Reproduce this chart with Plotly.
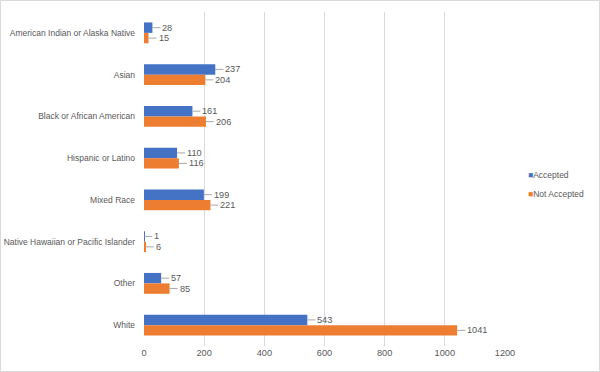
import plotly.graph_objects as go

categories = ["American Indian or Alaska Native", "Asian", "Black or African American",
              "Hispanic or Latino", "Mixed Race", "Native Hawaiian or Pacific Islander",
              "Other", "White"]
accepted = [28, 237, 161, 110, 199, 1, 57, 543]
not_accepted = [15, 204, 206, 116, 221, 6, 85, 1041]
x_ticks = [0, 200, 400, 600, 800, 1000, 1200]
series_names = ["Accepted", "Not Accepted"]
series_colors = ["#4472C4", "#ED7D31"]

W, H = 600, 372
ML, MR, MT, MB = 144, 95, 12, 26
pw, ph = W - ML - MR, H - MT - MB

FONT = "Liberation Sans, Arial"
FS = 8.5
TXT = "#595959"

fig = go.Figure()
for name, vals, col in zip(series_names, [accepted, not_accepted], series_colors):
    fig.add_trace(go.Bar(y=categories, x=vals, orientation="h", name=name,
                         marker=dict(color=col, line=dict(width=0)), showlegend=False,
                         legendgroup=name))
for name, col in zip(series_names, series_colors):
    fig.add_trace(go.Scatter(x=[None], y=[None], mode="markers", legendgroup=name,
                             name=f"<span style='color:{col}'>■</span>{name}",
                             marker=dict(symbol="square", size=1, color="rgba(0,0,0,0)")))

bar_px = ph / len(categories) * 0.25
annotations = []
for series, shift in ((accepted, bar_px / 2), (not_accepted, -bar_px / 2)):
    for cat, v in zip(categories, series):
        annotations.append(dict(
            x=v, y=cat, xref="x", yref="y", yshift=shift,
            text=str(v), showarrow=True, arrowhead=0, arrowwidth=1,
            arrowcolor="#A6A6A6", ax=8, ay=0, xanchor="left",
            font=dict(family=FONT, size=FS + 0.7, color=TXT)))

fig.update_layout(
    width=W, height=H,
    margin=dict(l=ML, r=MR, t=MT, b=MB, autoexpand=False),
    paper_bgcolor="white", plot_bgcolor="white",
    barmode="group", bargap=0.5, bargroupgap=0,
    font=dict(family=FONT, size=FS, color=TXT),
    showlegend=True,
    legend=dict(x=(488 - ML) / pw, y=(MT + ph - 184) / ph, xanchor="left", yanchor="middle",
                font=dict(family=FONT, size=FS, color=TXT), tracegroupgap=0,
                itemwidth=30, bgcolor="rgba(0,0,0,0)"),
    annotations=annotations,
    xaxis=dict(range=[0, 1200], tickvals=x_ticks, showgrid=True, gridcolor="#D9D9D9",
               gridwidth=1, zeroline=False, showline=False, ticks="", automargin=False,
               tickfont=dict(family=FONT, size=FS + 0.7, color=TXT)),
    yaxis=dict(autorange="reversed", showgrid=False, zeroline=False, showline=False,
               ticks="", ticklabelstandoff=8, automargin=False,
               tickfont=dict(family=FONT, size=FS, color=TXT)),
    shapes=[dict(type="rect", xref="paper", yref="paper",
                 x0=(-ML + 0.5) / pw, x1=(W - ML - 0.5) / pw,
                 y0=(-MB + 0.5) / ph, y1=(H - MB - 0.5) / ph,
                 line=dict(color="#D9D9D9", width=1), fillcolor="rgba(0,0,0,0)", layer="below")],
)

fig.write_html("out.html", config={"displayModeBar": False},
               post_script="document.body.style.margin='0';")
